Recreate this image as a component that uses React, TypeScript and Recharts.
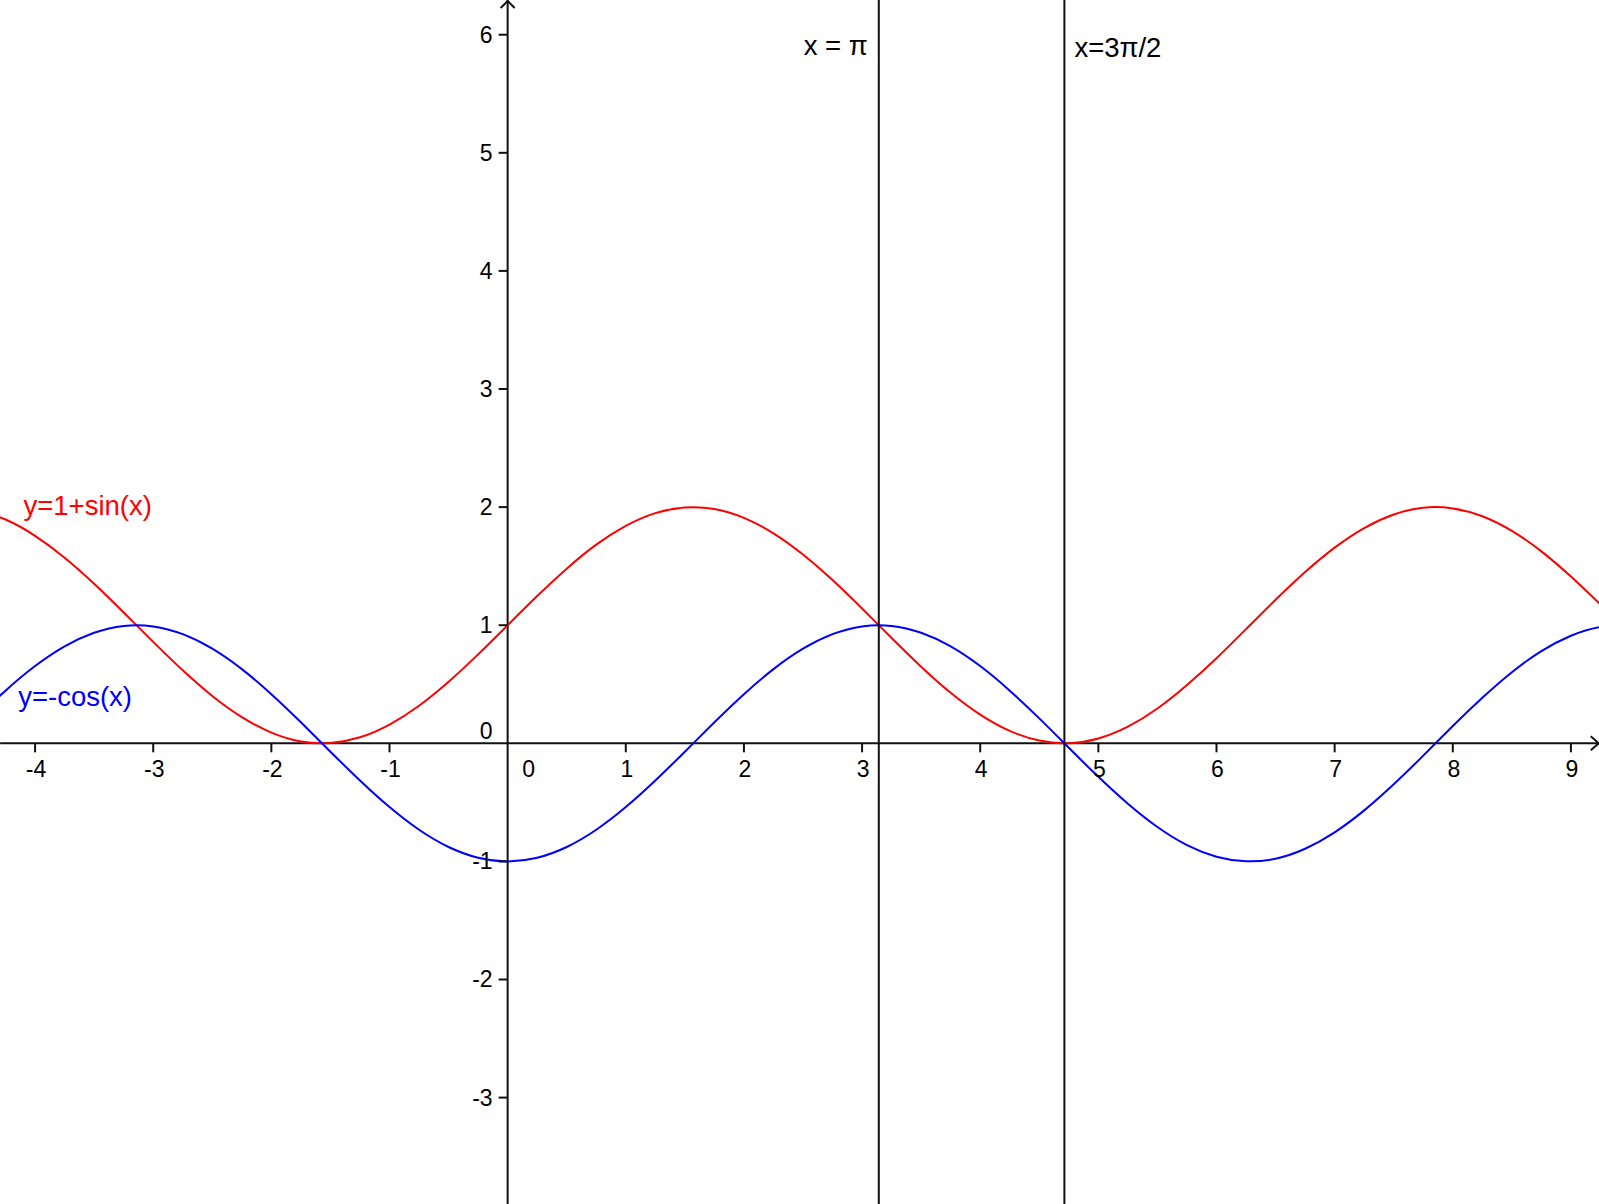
import React from "react";
import { LineChart, Line, XAxis, YAxis, ReferenceLine, ReferenceDot } from "recharts";

// sample points
const xs = [
  -4.5, -4.25, -4, -3.75, -3.5, -3.25, -3, -2.75, -2.5, -2.25, -2, -1.75, -1.5, -1.25, -1, -0.75, -0.5, -0.25, 0,
  0.25, 0.5, 0.75, 1, 1.25, 1.5, 1.75, 2, 2.25, 2.5, 2.75, 3, 3.25, 3.5, 3.75, 4, 4.25, 4.5, 4.75, 5, 5.25, 5.5,
  5.75, 6, 6.25, 6.5, 6.75, 7, 7.25, 7.5, 7.75, 8, 8.25, 8.5, 8.75, 9, 9.25, 9.5,
];
const sinCurve = [
  1.978, 1.895, 1.757, 1.572, 1.351, 1.108, 0.859, 0.618, 0.401, 0.222, 0.091, 0.016, 0.003, 0.051, 0.159, 0.318,
  0.521, 0.753, 1.0, 1.247, 1.479, 1.682, 1.841, 1.949, 1.997, 1.984, 1.909, 1.778, 1.598, 1.382, 1.141, 0.892,
  0.649, 0.428, 0.243, 0.105, 0.023, 0.001, 0.041, 0.141, 0.295, 0.494, 0.721, 0.967, 1.215, 1.45, 1.657, 1.823,
  1.938, 1.995, 1.989, 1.923, 1.799, 1.625, 1.412, 1.174, 0.925,
];
const cosCurve = [
  0.211, 0.446, 0.654, 0.821, 0.936, 0.994, 0.99, 0.924, 0.801, 0.628, 0.416, 0.178, -0.071, -0.315, -0.54, -0.732,
  -0.878, -0.969, -1.0, -0.969, -0.878, -0.732, -0.54, -0.315, -0.071, 0.178, 0.416, 0.628, 0.801, 0.924, 0.99,
  0.994, 0.936, 0.821, 0.654, 0.446, 0.211, -0.038, -0.284, -0.512, -0.709, -0.862, -0.96, -0.999, -0.977, -0.893,
  -0.754, -0.568, -0.347, -0.104, 0.146, 0.385, 0.602, 0.781, 0.911, 0.985, 0.997,
];

const xTicks = [-4, -3, -2, -1, 1, 2, 3, 4, 5, 6, 7, 8, 9];
const yTicks = [-3, -2, -1, 1, 2, 3, 4, 5, 6];

const data = xs.map((x, i) => ({ x, sin: sinCurve[i], cos: cosCurve[i] }));

const W = 1599;
const H = 1204;
// chart is a bit wider than the window so the sampled curves run past both edges
const CW = 1654;
const SHIFT = -24.3;
const VIEW_LEFT = -4.296;
const VIEW_RIGHT = 9.244;
const FONT = "'Liberation Sans', Arial, sans-serif";
const AXIS = "#111";
const TICK_SIZE = 23;
const LABEL_SIZE = 27.5;

const XAxisLine = (p: any) => {
  const left = Math.min(p.x1, p.x2);
  const right = Math.max(p.x1, p.x2);
  const y = p.y1;
  return (
    <g>
      <line x1={left} y1={y} x2={right} y2={y} stroke={AXIS} strokeWidth={2} />
      <polyline points={`${right - 9},${y - 7} ${right - 1},${y} ${right - 9},${y + 7}`} fill='none' stroke={AXIS} strokeWidth={2} />
    </g>
  );
};

const YAxisLine = (p: any) => {
  const top = Math.min(p.y1, p.y2);
  const bottom = Math.max(p.y1, p.y2);
  const x = p.x1;
  return (
    <g>
      <line x1={x} y1={top} x2={x} y2={bottom} stroke={AXIS} strokeWidth={2} />
      <polyline points={`${x - 7},${top + 8} ${x},${top + 1} ${x + 7},${top + 8}`} fill='none' stroke={AXIS} strokeWidth={2} />
    </g>
  );
};

export default function App() {
  return (
    <div style={{ position: "absolute", left: 0, top: 0, width: W, height: H, overflow: "hidden", background: "#fff" }}>
      <div style={{ position: "absolute", left: SHIFT, top: 0 }}>
        <LineChart width={CW} height={H} data={data} margin={{ top: 0, right: 0, bottom: 0, left: 0 }}>
          <XAxis dataKey='x' type='number' domain={[-4.5, 9.5]} allowDataOverflow hide />
          <YAxis type='number' domain={[-3.901, 6.294]} allowDataOverflow hide />

          <ReferenceLine
            segment={[
              { x: VIEW_LEFT, y: 0 },
              { x: VIEW_RIGHT, y: 0 },
            ]}
            shape={XAxisLine}
          />
          <ReferenceLine x={0} shape={YAxisLine} />

          {xTicks.map((t) => (
            <ReferenceDot
              key={"xt" + t}
              x={t}
              y={0}
              ifOverflow='visible'
              shape={(p: any) => (
                <g>
                  <line x1={p.cx} y1={p.cy} x2={p.cx} y2={p.cy + 9} stroke={AXIS} strokeWidth={2} />
                  <text x={p.cx + 1} y={p.cy + 34} textAnchor='middle' fontFamily={FONT} fontSize={TICK_SIZE} fill='#000'>
                    {t}
                  </text>
                </g>
              )}
            />
          ))}
          {yTicks.map((t) => (
            <ReferenceDot
              key={"yt" + t}
              x={0}
              y={t}
              ifOverflow='visible'
              shape={(p: any) => (
                <g>
                  <line x1={p.cx - 9} y1={p.cy} x2={p.cx} y2={p.cy} stroke={AXIS} strokeWidth={2} />
                  <text x={p.cx - 15} y={p.cy + 8} textAnchor='end' fontFamily={FONT} fontSize={TICK_SIZE} fill='#000'>
                    {t}
                  </text>
                </g>
              )}
            />
          ))}
          <ReferenceDot
            x={0}
            y={0}
            ifOverflow='visible'
            shape={(p: any) => (
              <g fontFamily={FONT} fontSize={TICK_SIZE} fill='#000'>
                <text x={p.cx + 21} y={p.cy + 34} textAnchor='middle'>
                  0
                </text>
                <text x={p.cx - 15} y={p.cy - 4} textAnchor='end'>
                  0
                </text>
              </g>
            )}
          />

          <Line type='natural' dataKey='sin' stroke='#ff0000' strokeWidth={2} dot={false} activeDot={false} isAnimationActive={false} />
          <Line type='natural' dataKey='cos' stroke='#0000ff' strokeWidth={2} dot={false} activeDot={false} isAnimationActive={false} />

          <ReferenceLine
            x={3.1416}
            shape={(p: any) => (
              <g>
                <line x1={p.x1} y1={p.y1} x2={p.x2} y2={p.y2} stroke={AXIS} strokeWidth={2} />
                <text x={p.x1 - 11} y={55} textAnchor='end' fontFamily={FONT} fontSize={LABEL_SIZE} fill='#000'>
                  x = π
                </text>
              </g>
            )}
          />
          <ReferenceLine
            x={4.7124}
            shape={(p: any) => (
              <g>
                <line x1={p.x1} y1={p.y1} x2={p.x2} y2={p.y2} stroke={AXIS} strokeWidth={2} />
                <text x={p.x1 + 10} y={57} textAnchor='start' fontFamily={FONT} fontSize={LABEL_SIZE} fill='#000'>
                  x=3π/2
                </text>
              </g>
            )}
          />

          <ReferenceDot
            x={-4.098}
            y={1.933}
            ifOverflow='visible'
            shape={(p: any) => (
              <text x={p.cx} y={p.cy} fontFamily={FONT} fontSize={LABEL_SIZE} fill='#ff0000'>
                y=1+sin(x)
              </text>
            )}
          />
          <ReferenceDot
            x={-4.143}
            y={0.317}
            ifOverflow='visible'
            shape={(p: any) => (
              <text x={p.cx} y={p.cy} fontFamily={FONT} fontSize={LABEL_SIZE} fill='#0000ff'>
                y=-cos(x)
              </text>
            )}
          />
        </LineChart>
      </div>
    </div>
  );
}
